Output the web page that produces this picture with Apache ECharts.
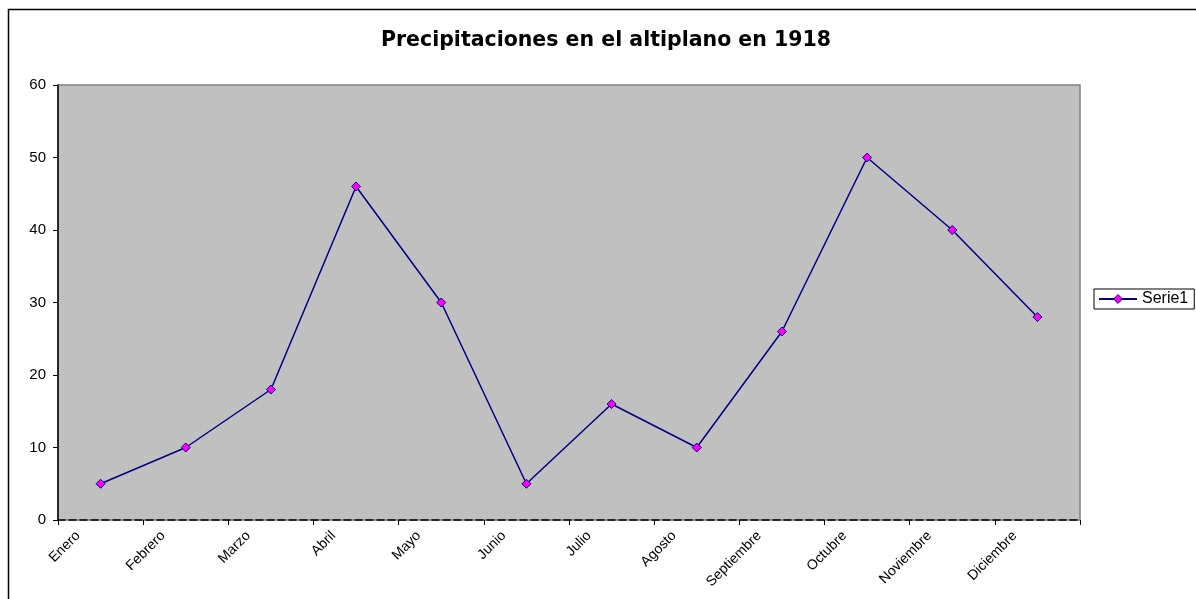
<!DOCTYPE html>
<html>
<head>
<meta charset="utf-8"/>
<script src="https://cdn.jsdelivr.net/npm/echarts@6/dist/echarts.min.js"></script>
<style>
  body{margin:0;background:#fff;}
  #chart{width:1196px;height:599px;}
</style>
</head>
<body>
<div id="chart"></div>
<script>
// datos
var meses = ['Enero','Febrero','Marzo','Abril','Mayo','Junio','Julio','Agosto','Septiembre','Octubre','Noviembre','Diciembre'];
var serie1 = [5, 10, 18, 46, 30, 5, 16, 10, 26, 50, 40, 28];
var yTicks = [0, 10, 20, 30, 40, 50, 60];

var fuente = '"Liberation Sans", Arial, sans-serif';
var chart = echarts.init(document.getElementById('chart'));

chart.setOption({
  animation: false,
  backgroundColor: '#fff',
  textStyle: {fontFamily: fuente},
  title: {
    text: 'Precipitaciones en el altiplano en 1918',
    left: 601,
    textAlign: 'center',
    top: 25,
    textStyle: {fontSize: 20.5, fontWeight: 'bold', color: '#000', fontFamily: '"DejaVu Sans", sans-serif'}
  },
  graphic: [{
    type: 'rect',
    left: 6, top: 7,
    shape: {width: 1200, height: 600},
    style: {fill: 'none', stroke: '#000', lineWidth: 1.5},
    z: 100
  }],
  legend: {
    data: [{name: 'Serie1', itemStyle: {color: '#FF00FF', borderColor: '#000080', borderWidth: 1}}],
    left: 1094,
    top: 289,
    orient: 'vertical',
    borderColor: '#000',
    borderWidth: 1,
    borderRadius: 0,
    padding: [2, 6, 2, 4],
    itemWidth: 38,
    itemHeight: 11,
    itemGap: 4,
    textStyle: {fontSize: 16, color: '#000', fontFamily: fuente}
  },
  grid: {
    left: 58, right: 116, top: 85, bottom: 79,
    show: true,
    backgroundColor: '#C0C0C0',
    borderColor: '#808080',
    borderWidth: 1.5
  },
  xAxis: {
    type: 'category',
    data: meses,
    boundaryGap: true,
    axisLine: {lineStyle: {color: '#000', width: 1.5, type: [7, 4]}},
    axisTick: {show: true, length: 5, lineStyle: {color: '#000'}},
    axisLabel: {rotate: 45, interval: 0, fontSize: 14, color: '#000', margin: -9,
      padding: [0, 32, 0, 0], fontFamily: fuente},
    splitLine: {show: false}
  },
  yAxis: {
    type: 'value',
    min: yTicks[0],
    max: yTicks[yTicks.length - 1],
    interval: 10,
    axisLine: {show: true, lineStyle: {color: '#000', width: 1.5}},
    axisTick: {show: true, length: 5, lineStyle: {color: '#000'}},
    axisLabel: {fontSize: 15, color: '#000', margin: 12, fontFamily: fuente},
    splitLine: {show: false}
  },
  series: [{
    name: 'Serie1',
    type: 'line',
    data: serie1,
    symbol: 'diamond',
    symbolSize: 9,
    lineStyle: {color: '#000080', width: 1.5},
    itemStyle: {color: '#FF00FF', borderColor: '#000080', borderWidth: 1}
  }]
});
</script>
</body>
</html>
